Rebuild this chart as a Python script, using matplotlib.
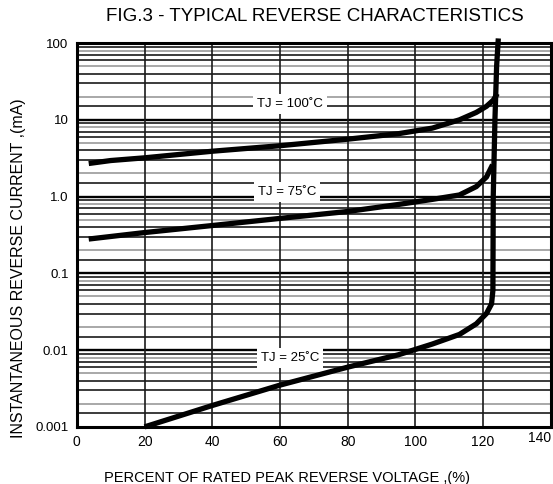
import matplotlib
matplotlib.use("Agg")
import matplotlib.pyplot as plt
import numpy as np

plt.rcParams['font.family'] = ['Liberation Sans', 'DejaVu Sans']

# ---- data ----
x_ticks = [0, 20, 40, 60, 80, 100, 120, 140]
x_tick_labels = ["0", "20", "40", "60", "80", "100", "120", "140"]
y_ticks = [0.001, 0.01, 0.1, 1.0, 10, 100]
y_tick_labels = ["0.001", "0.01", "0.1", "1.0", "10", "100"]

x_100 = [3.5, 10, 20, 40, 60, 80, 95, 105, 113, 118, 121, 123, 124.2]
y_100 = [2.7, 2.95, 3.2, 3.9, 4.6, 5.6, 6.6, 7.8, 10.0, 12.5, 15, 18, 22]

x_75 = [3.5, 20, 40, 60, 80, 95, 105, 113, 118, 121, 122.8]
y_75 = [0.28, 0.34, 0.42, 0.52, 0.64, 0.79, 0.92, 1.05, 1.35, 1.8, 2.6]

x_25 = [20, 40, 60, 80, 95, 105, 113, 118, 121, 122.5, 122.9, 123.0, 123.5, 124.0, 124.5]
y_25 = [0.001, 0.0019, 0.0035, 0.006, 0.0087, 0.012, 0.016, 0.022, 0.03, 0.04, 0.06, 1.0, 10, 50, 115]

labels = ["TJ = 100\u02daC", "TJ = 75\u02daC", "TJ = 25\u02daC"]
label_x = [63, 62, 63]
label_y = [16, 1.15, 0.0079]

# ---- figure ----
fig = plt.figure(figsize=(5.53, 4.84), dpi=100)
ax = fig.add_axes([0.139, 0.118, 0.857, 0.793])
ax.set_yscale('log')
ax.set_xlim(0, 140)
ax.set_ylim(0.001, 100)

# grid lines
minor_mults = [1.5, 2, 3, 4, 5, 6, 7, 8, 9]
minor_dark = [True, False, True, True, False, True, True, False, True]
for dec in [0.001, 0.01, 0.1, 1, 10]:
    for m, d in zip(minor_mults, minor_dark):
        ax.axhline(dec * m, color='#1a1a1a' if d else '#9a9a9a',
                   lw=1.2, zorder=1)
for dec in [0.01, 0.1, 1, 10]:
    ax.axhline(dec, color='black', lw=1.7, zorder=1)
for xv in x_ticks[1:-1]:
    ax.axvline(xv, color='#1a1a1a', lw=1.2, zorder=1)

for s in ax.spines.values():
    s.set_linewidth(2.2)

ax.plot(x_100, y_100, color='black', lw=3.8, solid_capstyle='butt', zorder=3)
ax.plot(x_75, y_75, color='black', lw=3.8, solid_capstyle='butt', zorder=3)
ax.plot(x_25, y_25, color='black', lw=3.8, solid_capstyle='butt', zorder=3, clip_on=False)

for t, xv, yv in zip(labels, label_x, label_y):
    ax.text(xv, yv, t, ha='center', va='center', fontsize=9.5, zorder=4,
            bbox=dict(boxstyle='square,pad=0.3', fc='white', ec='none'))

ax.set_xticks(x_ticks)
ax.set_xticklabels(x_tick_labels, fontsize=10)
ax.get_xticklabels()[-1].set_horizontalalignment('right')
ax.get_xticklabels()[-1].set_y(0.012)
ax.set_yticks(y_ticks)
ax.set_yticklabels(y_tick_labels, fontsize=9.5)
ax.yaxis.set_minor_locator(matplotlib.ticker.NullLocator())
ax.tick_params(axis='both', length=0, pad=6)

ax.set_xlabel("PERCENT OF RATED PEAK REVERSE VOLTAGE ,(%)", fontsize=10.5)
ax.xaxis.set_label_coords(0.443, -0.115)
ax.set_ylabel("INSTANTANEOUS REVERSE CURRENT ,(mA)", fontsize=11.5)
ax.yaxis.set_label_coords(-0.108, 0.414)
fig.text(0.57, 0.965, "FIG.3 - TYPICAL REVERSE CHARACTERISTICS", ha='center', va='center', fontsize=13.5)

fig.savefig("out.png", dpi=100)
